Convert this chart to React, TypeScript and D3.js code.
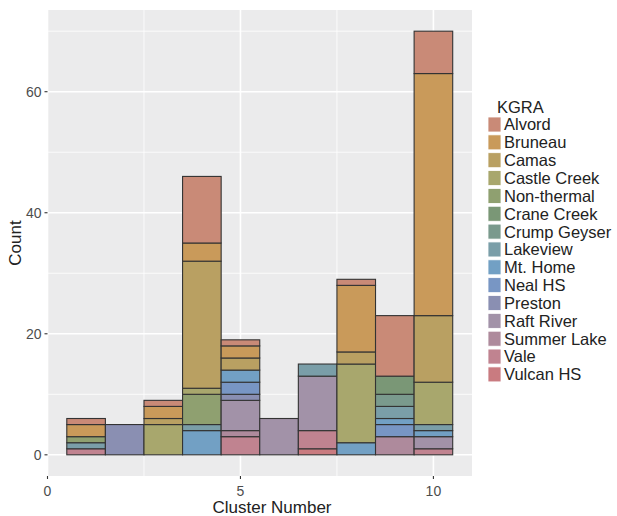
import React from "react";
import * as d3 from "d3";

const kgras = ["Alvord","Bruneau","Camas","Castle Creek","Non-thermal","Crane Creek","Crump Geyser","Lakeview","Mt. Home","Neal HS","Preston","Raft River","Summer Lake","Vale","Vulcan HS"];
const colors = ["#C98A77","#C99A5A","#B9A062","#A8A76D","#8FA070","#7A9776","#7A9A8D","#7A9EA8","#72A0C4","#7896C4","#8A8FB2","#A292A8","#AE8A9C","#C08390","#C97B80"];
const clusters = [1,2,3,4,5,6,7,8,9,10];
// counts[cluster index][kgra index]
const counts: number[][] = [
  [1,2,0,0,1,0,0,1,0,0,0,0,0,1,0],
  [0,0,0,0,0,0,0,0,0,0,5,0,0,0,0],
  [1,2,1,5,0,0,0,0,0,0,0,0,0,0,0],
  [11,3,21,1,5,0,0,1,4,0,0,0,0,0,0],
  [1,2,2,0,0,0,0,0,2,2,1,5,1,3,0],
  [0,0,0,0,0,0,0,0,0,0,0,6,0,0,0],
  [0,0,0,0,0,0,0,2,0,0,0,9,0,3,1],
  [1,11,2,13,0,0,0,0,2,0,0,0,0,0,0],
  [10,0,0,0,0,3,2,2,1,2,0,0,3,0,0],
  [7,40,11,7,0,0,0,1,1,0,0,2,0,1,0],
];
const xTicks = [0,5,10];
const yTicks = [0,20,40,60];

export default function App() {
  const W = 617, H = 516;
  const left = 47.5, right = 472, top = 10, bottom = 476;
  const x = d3.scaleLinear().domain([0, 11]).range([left, right]);
  const y = d3.scaleLinear().domain([-3.5, 73.5]).range([bottom, top]);
  const font = "Liberation Sans, Arial, Helvetica, sans-serif";

  const rects: any[] = [];
  clusters.forEach((c, ci) => {
    let base = 0;
    for (let k = kgras.length - 1; k >= 0; k--) {
      const v = counts[ci][k];
      if (!v) continue;
      rects.push({ c, k, y0: base, y1: base + v });
      base += v;
    }
  });

  const xMinor = [2.5, 7.5];
  const yMinor = [10, 30, 50, 70];

  return (
    <svg width={W} height={H} style={{ position: "absolute", left: 0, top: 0 }} fontFamily={font}>
      <rect x={0} y={0} width={W} height={H} fill="#fff" />
      <rect x={left} y={top} width={right - left} height={bottom - top} fill="#EBEBEC" />
      {xMinor.map((t) => (
        <line key={"xm" + t} x1={x(t)} x2={x(t)} y1={top} y2={bottom} stroke="#fff" strokeWidth={0.8} />
      ))}
      {yMinor.map((t) => (
        <line key={"ym" + t} x1={left} x2={right} y1={y(t)} y2={y(t)} stroke="#fff" strokeWidth={0.8} />
      ))}
      {xTicks.map((t) => (
        <line key={"xg" + t} x1={x(t)} x2={x(t)} y1={top} y2={bottom} stroke="#fff" strokeWidth={1.6} />
      ))}
      {yTicks.map((t) => (
        <line key={"yg" + t} x1={left} x2={right} y1={y(t)} y2={y(t)} stroke="#fff" strokeWidth={1.6} />
      ))}
      {rects.map((r, i) => (
        <rect
          key={i}
          x={x(r.c - 0.5)}
          width={x(r.c + 0.5) - x(r.c - 0.5)}
          y={y(r.y1)}
          height={y(r.y0) - y(r.y1)}
          fill={colors[r.k]}
          stroke="#333"
          strokeWidth={1.1}
        />
      ))}
      {yTicks.map((t) => (
        <g key={"yt" + t}>
          <line x1={left - 3} x2={left} y1={y(t)} y2={y(t)} stroke="#333" strokeWidth={1.1} />
          <text x={left - 6} y={y(t)} dy="0.36em" textAnchor="end" fontSize={14} fill="#4D4D4D">{t}</text>
        </g>
      ))}
      {xTicks.map((t) => (
        <g key={"xt" + t}>
          <line x1={x(t)} x2={x(t)} y1={bottom} y2={bottom + 3} stroke="#333" strokeWidth={1.1} />
          <text x={x(t)} y={bottom + 20} textAnchor="middle" fontSize={14} fill="#4D4D4D">{t}</text>
        </g>
      ))}
      <text x={272} y={H - 3} textAnchor="middle" fontSize={17} fill="#222">Cluster Number</text>
      <text transform={`translate(21,243) rotate(-90)`} textAnchor="middle" fontSize={17} fill="#222">Count</text>
      <text x={497} y={113} fontSize={16.5} fill="#222">KGRA</text>
      {kgras.map((k, i) => {
        const cy = 124.5 + i * 17.85;
        return (
          <g key={k}>
            <rect x={488} y={cy - 7.5} width={13} height={15} fill={colors[i]} stroke="#fff" strokeWidth={0.8} />
            <text x={504} y={cy} dy="0.36em" fontSize={16.5} fill="#222">{k}</text>
          </g>
        );
      })}
    </svg>
  );
}
